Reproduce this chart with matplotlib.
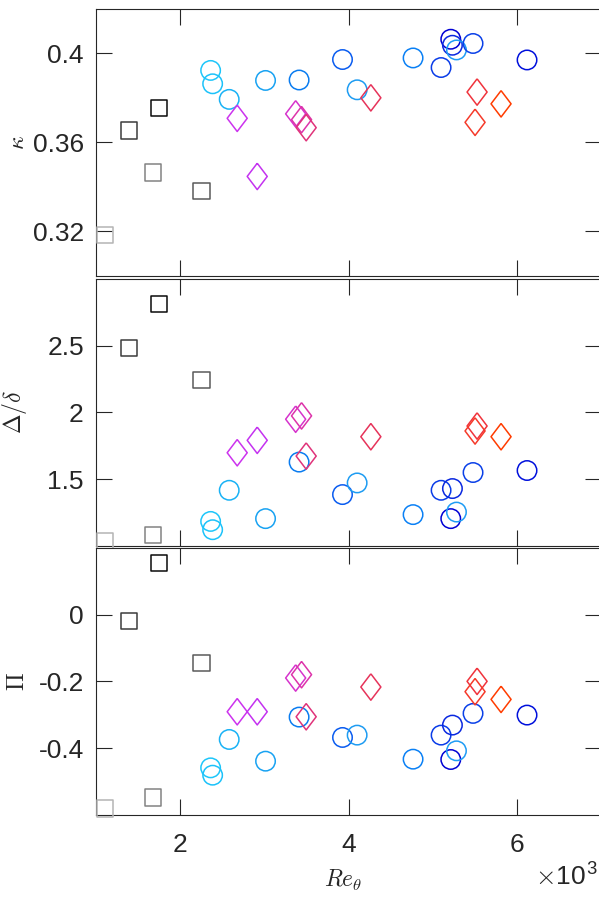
import numpy as np
import matplotlib
matplotlib.use("Agg")
import matplotlib.pyplot as plt
from matplotlib.ticker import FixedLocator, FuncFormatter

plt.rcParams['font.family'] = ['Liberation Sans', 'DejaVu Sans']
plt.rcParams['mathtext.fontset'] = 'cm'

# squares
sq_re = [1103, 1389, 1749, 1677, 2252]
sq_kappa = [0.3185, 0.3653, 0.3753, 0.3465, 0.3382]
sq_delta = [1.04, 2.48, 2.81, 1.08, 2.24]
sq_pi = [-0.581, -0.020, 0.155, -0.548, -0.145]
sq_col = ['#b4b4b4', '#3c3c3c', '#0a0a0a', '#828282', '#5a5a5a']

# circles
ci_re = [2359, 2383, 2580, 3012, 3411, 3927, 4101, 4766, 5099, 5214, 5234, 5282, 5479, 6121]
ci_kappa = [0.3923, 0.3863, 0.3793, 0.3878, 0.3880, 0.3972, 0.3836, 0.3979, 0.3936,
            0.4063, 0.4036, 0.4015, 0.4044, 0.3970]
ci_delta = [1.184, 1.122, 1.417, 1.205, 1.628, 1.385, 1.472, 1.235, 1.417,
            1.205, 1.430, 1.254, 1.550, 1.565]
ci_pi = [-0.459, -0.481, -0.374, -0.439, -0.307, -0.368, -0.361, -0.433, -0.361,
         -0.434, -0.331, -0.408, -0.296, -0.301]
ci_col = ['#1ec6fa', '#1cc2fa', '#19b2f5', '#18a2f2', '#0a7cf0', '#0a5cf0', '#1e9cf2',
          '#0a80f5', '#0a3ce8', '#0000d4', '#0a28e0', '#1e9cf5', '#0a40e8', '#0010dc']

# diamonds
di_re = [2675, 2913, 3370, 3440, 3495, 4264, 5527, 5503, 5812]
di_kappa = [0.3708, 0.3447, 0.3728, 0.3702, 0.3666, 0.3800, 0.3826, 0.3690, 0.3773]
di_delta = [1.698, 1.791, 1.949, 1.974, 1.673, 1.818, 1.898, 1.861, 1.818]
di_pi = [-0.291, -0.291, -0.190, -0.180, -0.306, -0.217, -0.200, -0.231, -0.254]
di_col = ['#cc33ee', '#c432f0', '#d633cc', '#dd33aa', '#e0337a', '#e6335a',
          '#f0333c', '#f53a2a', '#ff3c00']

xticks = [2000, 4000, 6000]
panels = [
    (sq_kappa, ci_kappa, di_kappa, (0.30, 0.42), [0.32, 0.36, 0.4], r'$\kappa$'),
    (sq_delta, ci_delta, di_delta, (1.0, 3.0), [1.5, 2, 2.5], r'$\Delta/\delta$'),
    (sq_pi, ci_pi, di_pi, (-0.6, 0.2), [-0.4, -0.2, 0], r'$\Pi$'),
]

diamond = [(0, 1), (0.76, 0), (0, -1), (-0.76, 0), (0, 1)]
axcol = '#262626'

fig = plt.figure(figsize=(5.99, 9.01), dpi=100)
bottoms = [0.6937, 0.3940, 0.0955]
height = 0.2966

for i, (ys, yc, yd, ylim, yt, lab) in enumerate(panels):
    ax = fig.add_axes([0.1608, bottoms[i], 0.8425, height])
    ax.scatter(sq_re, ys, marker='s', s=137, facecolors='none', edgecolors=sq_col,
               linewidths=1.1, clip_on=False, zorder=3)
    ax.scatter(ci_re, yc, marker='o', s=196, facecolors='none', edgecolors=ci_col,
               linewidths=1.1, clip_on=False, zorder=3)
    ax.scatter(di_re, yd, marker=diamond, s=361, facecolors='none', edgecolors=di_col,
               linewidths=1.1, clip_on=False, zorder=3)
    ax.set_xlim(1000, 7000)
    ax.set_ylim(*ylim)
    ax.xaxis.set_major_locator(FixedLocator(xticks))
    ax.yaxis.set_major_locator(FixedLocator(yt))
    ax.yaxis.set_major_formatter(FuncFormatter(lambda v, p: '%g' % v))
    ax.xaxis.set_major_formatter(FuncFormatter(lambda v, p: '%g' % (v / 1000)))
    ax.tick_params(direction='in', length=11.5, width=0.8, top=True, right=True,
                   colors=axcol, labelsize=19)
    ax.tick_params(axis='y', pad=9)
    ax.tick_params(axis='x', pad=13)
    if i < 2:
        ax.tick_params(axis='x', labelbottom=False)
    for sp in ax.spines.values():
        sp.set_color(axcol)
        sp.set_linewidth(0.8)
    ax.set_ylabel(lab, fontsize=17, color=axcol)
    ax.yaxis.set_label_coords(-0.133, 0.5)
    if i == 2:
        ax.set_xlabel(r'$Re_\theta$', fontsize=17, color=axcol)
        ax.xaxis.set_label_coords(0.49, -0.2)

fig.text(0.998, 0.0125, r'$\times$10$^\mathregular{3}$', ha='right', va='bottom',
         fontsize=19, color=axcol)

fig.savefig('out.png', dpi=100)
